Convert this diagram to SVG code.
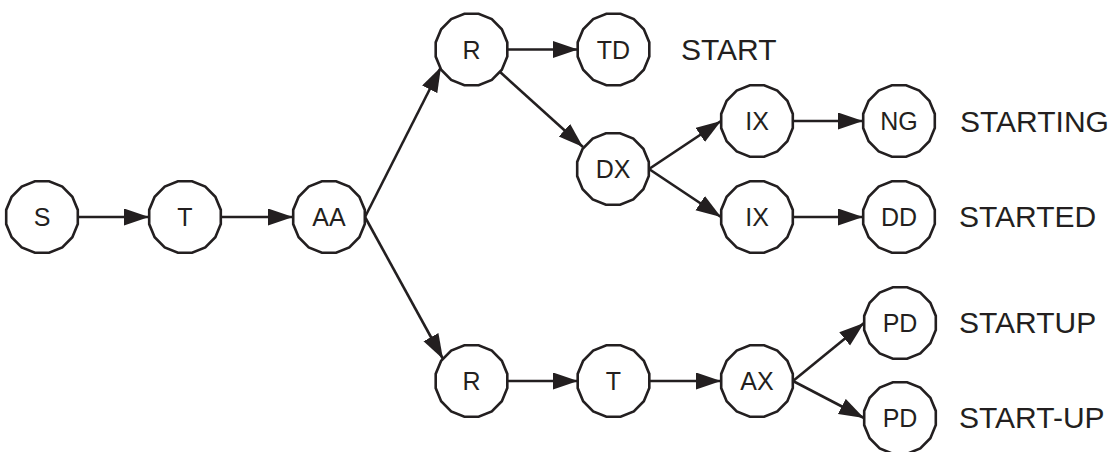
<svg xmlns="http://www.w3.org/2000/svg" xmlns:xlink="http://www.w3.org/1999/xlink" width="1118" height="452" viewBox="0 0 1118 452">
<style>
.node{fill:#fff;stroke:#231f20;stroke-width:2.6}
.nl{font-family:"Liberation Sans",Arial,sans-serif;font-size:25px;fill:#231f20;text-anchor:middle}
.lab{font-family:"Liberation Sans",Arial,sans-serif;font-size:30px;fill:#231f20}
.edge{stroke:#231f20;stroke-width:2.6;fill:none;marker-end:url(#arr)}
</style>
<defs>
<marker id="arr" markerUnits="userSpaceOnUse" markerWidth="26" markerHeight="18" refX="25" refY="8.5" orient="auto">
<path d="M0,0 L25,8.5 L0,17 Z" fill="#231f20"/>
</marker>
<polygon id="oct" points="35.80,7.12 30.35,20.28 20.28,30.35 7.12,35.80 -7.12,35.80 -20.28,30.35 -30.35,20.28 -35.80,7.12 -35.80,-7.12 -30.35,-20.28 -20.28,-30.35 -7.12,-35.80 7.12,-35.80 20.28,-30.35 30.35,-20.28 35.80,-7.12"/>
</defs>
<rect width="1118" height="452" fill="#fff"/>
<g id="connectors">
<line class="edge" x1="78" y1="217" x2="149" y2="217"/>
<line class="edge" x1="221" y1="217" x2="293" y2="217"/>
<line class="edge" x1="365" y1="217" x2="441" y2="67"/>
<line class="edge" x1="365" y1="217" x2="443" y2="359"/>
<line class="edge" x1="507" y1="49.5" x2="578" y2="49.5"/>
<line class="edge" x1="499" y1="71" x2="583" y2="147"/>
<line class="edge" x1="649" y1="169" x2="721" y2="121"/>
<line class="edge" x1="649" y1="169" x2="721" y2="217"/>
<line class="edge" x1="793" y1="121" x2="863" y2="121"/>
<line class="edge" x1="793" y1="217" x2="863" y2="217"/>
<line class="edge" x1="507" y1="381" x2="578" y2="381"/>
<line class="edge" x1="650" y1="381" x2="721" y2="381"/>
<line class="edge" x1="793" y1="381" x2="864" y2="323"/>
<line class="edge" x1="793" y1="381" x2="864" y2="418"/>
</g>
<g id="n-S"><use href="#oct" class="node" x="42" y="217"/><text class="nl" x="42" y="226">S</text></g>
<g id="n-T"><use href="#oct" class="node" x="185" y="217"/><text class="nl" x="185" y="226">T</text></g>
<g id="n-AA"><use href="#oct" class="node" x="329" y="217"/><text class="nl" x="329" y="226">AA</text></g>
<g id="n-R1"><use href="#oct" class="node" x="471.5" y="49.5"/><text class="nl" x="471.5" y="58.5">R</text></g>
<g id="n-TD"><use href="#oct" class="node" x="613.5" y="49.5"/><text class="nl" x="613.5" y="58.5">TD</text></g>
<g id="n-DX"><use href="#oct" class="node" x="613" y="169"/><text class="nl" x="613" y="178">DX</text></g>
<g id="n-IX1"><use href="#oct" class="node" x="757" y="121"/><text class="nl" x="757" y="130">IX</text></g>
<g id="n-NG"><use href="#oct" class="node" x="899" y="121"/><text class="nl" x="899" y="130">NG</text></g>
<g id="n-IX2"><use href="#oct" class="node" x="757" y="217"/><text class="nl" x="757" y="226">IX</text></g>
<g id="n-DD"><use href="#oct" class="node" x="899" y="217"/><text class="nl" x="899" y="226">DD</text></g>
<g id="n-R2"><use href="#oct" class="node" x="471.5" y="381"/><text class="nl" x="471.5" y="390">R</text></g>
<g id="n-T2"><use href="#oct" class="node" x="613.5" y="381"/><text class="nl" x="613.5" y="390">T</text></g>
<g id="n-AX"><use href="#oct" class="node" x="757" y="381"/><text class="nl" x="757" y="390">AX</text></g>
<g id="n-PD1"><use href="#oct" class="node" x="900" y="323"/><text class="nl" x="900" y="332">PD</text></g>
<g id="n-PD2"><use href="#oct" class="node" x="900" y="418"/><text class="nl" x="900" y="427">PD</text></g>
<g id="labels">
<text class="lab" x="681" y="60">START</text>
<text class="lab" x="960" y="132">STARTING</text>
<text class="lab" x="959" y="227">STARTED</text>
<text class="lab" x="959" y="333">STARTUP</text>
<text class="lab" x="959" y="428">START-UP</text>
</g>
</svg>
